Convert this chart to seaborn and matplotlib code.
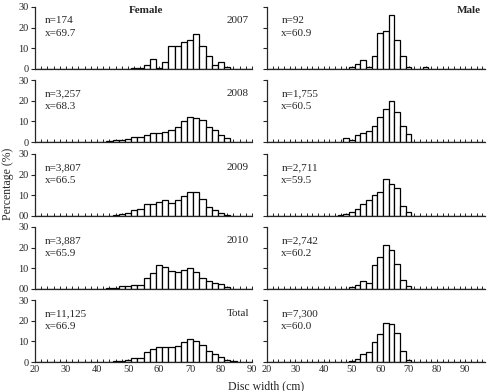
import numpy as np
import pandas as pd
import matplotlib
matplotlib.use('Agg')
import matplotlib.pyplot as plt
from matplotlib.ticker import MultipleLocator
import seaborn as sns

# 2-cm disc width classes, centred on 20, 22, ..., 96
bin_centers = np.arange(20, 98, 2)

# Percentages (rows of 10 classes: 20-38, 40-58, 60-78, 80-96)
female_2007 = [0, 0, 0, 0, 0, 0, 0, 0, 0, 0,
               0, 0, 0, 0, 0, 0, 0.6, 0.6, 1.7, 4.6,
               0.6, 3.4, 10.9, 10.9, 13.2, 13.8, 16.7, 10.9, 6.3, 1.7,
               3.4, 1.1, 0, 0, 0, 0, 0, 0, 0]
female_2008 = [0.1, 0.1, 0.1, 0.1, 0.1, 0.1, 0.1, 0.1, 0.1, 0.1,
               0.1, 0.1, 0.5, 0.8, 1.0, 1.3, 2.4, 2.5, 3.5, 4.5,
               4.2, 4.6, 5.6, 7.5, 10.0, 12.0, 11.5, 10.5, 7.5, 6.0,
               3.5, 2.0, 0.2, 0.2, 0.2, 0.1, 0, 0, 0]
female_2009 = [0, 0, 0, 0, 0, 0, 0, 0, 0.2, 0,
               0.1, 0.1, 0.1, 0.5, 1.0, 1.5, 3.0, 3.5, 6.0, 6.0,
               7.0, 7.5, 6.5, 7.5, 9.5, 11.5, 11.5, 8.0, 4.5, 3.0,
               1.5, 0.5, 0.1, 0.1, 0.1, 0, 0, 0, 0]
female_2010 = [0, 0, 0, 0.2, 0, 0, 0, 0, 0.2, 0,
               0, 0, 0.3, 0.3, 1.3, 1.3, 1.8, 1.8, 5.5, 7.6,
               11.6, 10.8, 8.7, 8.4, 9.2, 10.3, 8.0, 5.5, 4.0, 3.0,
               2.3, 1.0, 0.2, 0.2, 0.2, 0.1, 0, 0, 0]
female_total = [0.1, 0.1, 0.1, 0.1, 0.1, 0.1, 0.1, 0.1, 0.1, 0.1,
                0.1, 0.1, 0.2, 0.3, 0.7, 1.0, 2.0, 2.0, 5.0, 6.2,
                7.5, 7.5, 7.2, 7.7, 9.5, 11.0, 10.0, 8.0, 5.5, 3.8,
                2.2, 1.0, 0.3, 0.1, 0.1, 0.1, 0, 0, 0]

male_2007 = [0, 0, 0, 0, 0, 0, 0, 0, 0, 0,
             0, 0, 0, 0, 0, 1.1, 2.2, 4.3, 1.1, 6.5,
             17.4, 18.5, 26.1, 14.1, 6.5, 1.1, 0, 0, 1.1, 0,
             0, 0, 0, 0, 0, 0, 0, 0, 0]
male_2008 = [0, 0, 0, 0.1, 0.1, 0, 0.1, 0.1, 0.1, 0.1,
             0.1, 0.1, 0.1, 0.1, 1.8, 0.8, 3.2, 4.5, 5.3, 7.7,
             12.0, 16.0, 19.8, 14.7, 7.7, 4.0, 0.1, 0.1, 0, 0,
             0.1, 0.1, 0, 0, 0, 0.1, 0, 0, 0]
male_2009 = [0, 0, 0, 0, 0, 0, 0, 0, 0.1, 0.1,
             0.1, 0.1, 0.1, 0.6, 1.1, 2.0, 3.5, 6.0, 7.6, 10.3,
             11.6, 17.7, 15.3, 13.5, 4.8, 1.9, 0.1, 0.1, 0.1, 0.1,
             0.1, 0.1, 0.1, 0.1, 0.1, 0, 0, 0, 0]
male_2010 = [0, 0.1, 0.1, 0, 0, 0, 0, 0, 0, 0,
             0.1, 0.1, 0.1, 0.1, 0.1, 1.0, 1.7, 3.7, 3.0, 11.5,
             15.5, 21.5, 19.0, 12.0, 4.5, 1.3, 0.1, 0.1, 0.1, 0,
             0, 0, 0, 0.1, 0.1, 0.1, 0.1, 0.1, 0.1]
male_total = [0, 0.1, 0.1, 0.1, 0, 0.1, 0.1, 0, 0.1, 0.1,
              0.1, 0.1, 0.1, 0.1, 0.2, 0.6, 1.3, 3.8, 4.8, 9.6,
              13.4, 19.0, 18.5, 13.8, 5.2, 1.0, 0.1, 0.1, 0.1, 0.1,
              0.1, 0.1, 0.1, 0.1, 0.1, 0.1, 0.1, 0.1, 0.1]

years = ['2007', '2008', '2009', '2010', 'Total']
female_n = ['174', '3,257', '3,807', '3,887', '11,125']
female_mean = ['69.7', '68.3', '66.5', '65.9', '66.9']
male_n = ['92', '1,755', '2,711', '2,742', '7,300']
male_mean = ['60.9', '60.5', '59.5', '60.2', '60.0']
x_ticks = [20, 30, 40, 50, 60, 70, 80, 90]
y_ticks = [0, 10, 20, 30]

female_data = [female_2007, female_2008, female_2009, female_2010, female_total]
male_data = [male_2007, male_2008, male_2009, male_2010, male_total]

sns.set_style('ticks')
plt.rcParams['font.family'] = ['Liberation Serif', 'DejaVu Serif']

W, H = 494, 391
fig = plt.figure(figsize=(W / 100, H / 100), dpi=100)

bottoms_px = [69, 142, 216, 289, 362]
panel_h = 62
left_x, left_w = 35, 217
right_x, right_w = 267, 218

for r in range(5):
    for side in range(2):
        if side == 0:
            x0, w, vals, xmax = left_x, left_w, female_data[r], 90
            n_txt, m_txt = female_n[r], female_mean[r]
        else:
            x0, w, vals, xmax = right_x, right_w, male_data[r], 97
            n_txt, m_txt = male_n[r], male_mean[r]
        df = pd.DataFrame({'width': bin_centers, 'pct': vals})
        ax = fig.add_axes([x0 / W, 1 - bottoms_px[r] / H, w / W, panel_h / H])
        sns.histplot(data=df, x='width', weights='pct', binwidth=2,
                     binrange=(19, 97), color='white', edgecolor='black',
                     linewidth=0.9, alpha=1, ax=ax)
        ax.set_xlim(20, xmax)
        ax.set_ylim(0, 30)
        ax.set_xlabel('')
        ax.set_ylabel('')
        sns.despine(ax=ax)
        for s in ['left', 'bottom']:
            ax.spines[s].set_linewidth(0.9)
        ax.set_yticks(y_ticks)
        ax.set_xticks(x_ticks)
        ax.xaxis.set_minor_locator(MultipleLocator(2))
        ax.tick_params(axis='y', direction='out', length=3, width=0.8,
                       labelsize=7.5, pad=1.5)
        ax.tick_params(axis='x', which='both', direction='in', length=2,
                       width=0.7, labelsize=7.5, pad=2)
        if side == 0:
            if r in (2, 3):
                ax.set_yticklabels(['00', '10', '20', '30'])
            ax.text(0.986, 0.78, years[r], transform=ax.transAxes,
                    ha='right', va='center', fontsize=8)
            tx = 0.046
        else:
            ax.tick_params(axis='y', labelleft=False)
            tx = 0.066
        if r < 4:
            ax.tick_params(axis='x', labelbottom=False)
        ax.text(tx, 0.78, 'n=' + n_txt, transform=ax.transAxes,
                ha='left', va='center', fontsize=8)
        ax.text(tx, 0.575, 'x=' + m_txt, transform=ax.transAxes,
                ha='left', va='center', fontsize=8)
        if r == 0:
            if side == 0:
                ax.text(0.51, 0.95, 'Female', transform=ax.transAxes,
                        ha='center', va='center', fontsize=8, fontweight='bold')
            else:
                ax.text(0.925, 0.95, 'Male', transform=ax.transAxes,
                        ha='center', va='center', fontsize=8, fontweight='bold')

fig.text(0.016, 0.53, 'Percentage (%)', rotation=90, ha='center', va='center',
         fontsize=8.5)
fig.text(0.538, 0.012, 'Disc width (cm)', ha='center', va='center', fontsize=8.5)

fig.savefig('out.png', dpi=100)
